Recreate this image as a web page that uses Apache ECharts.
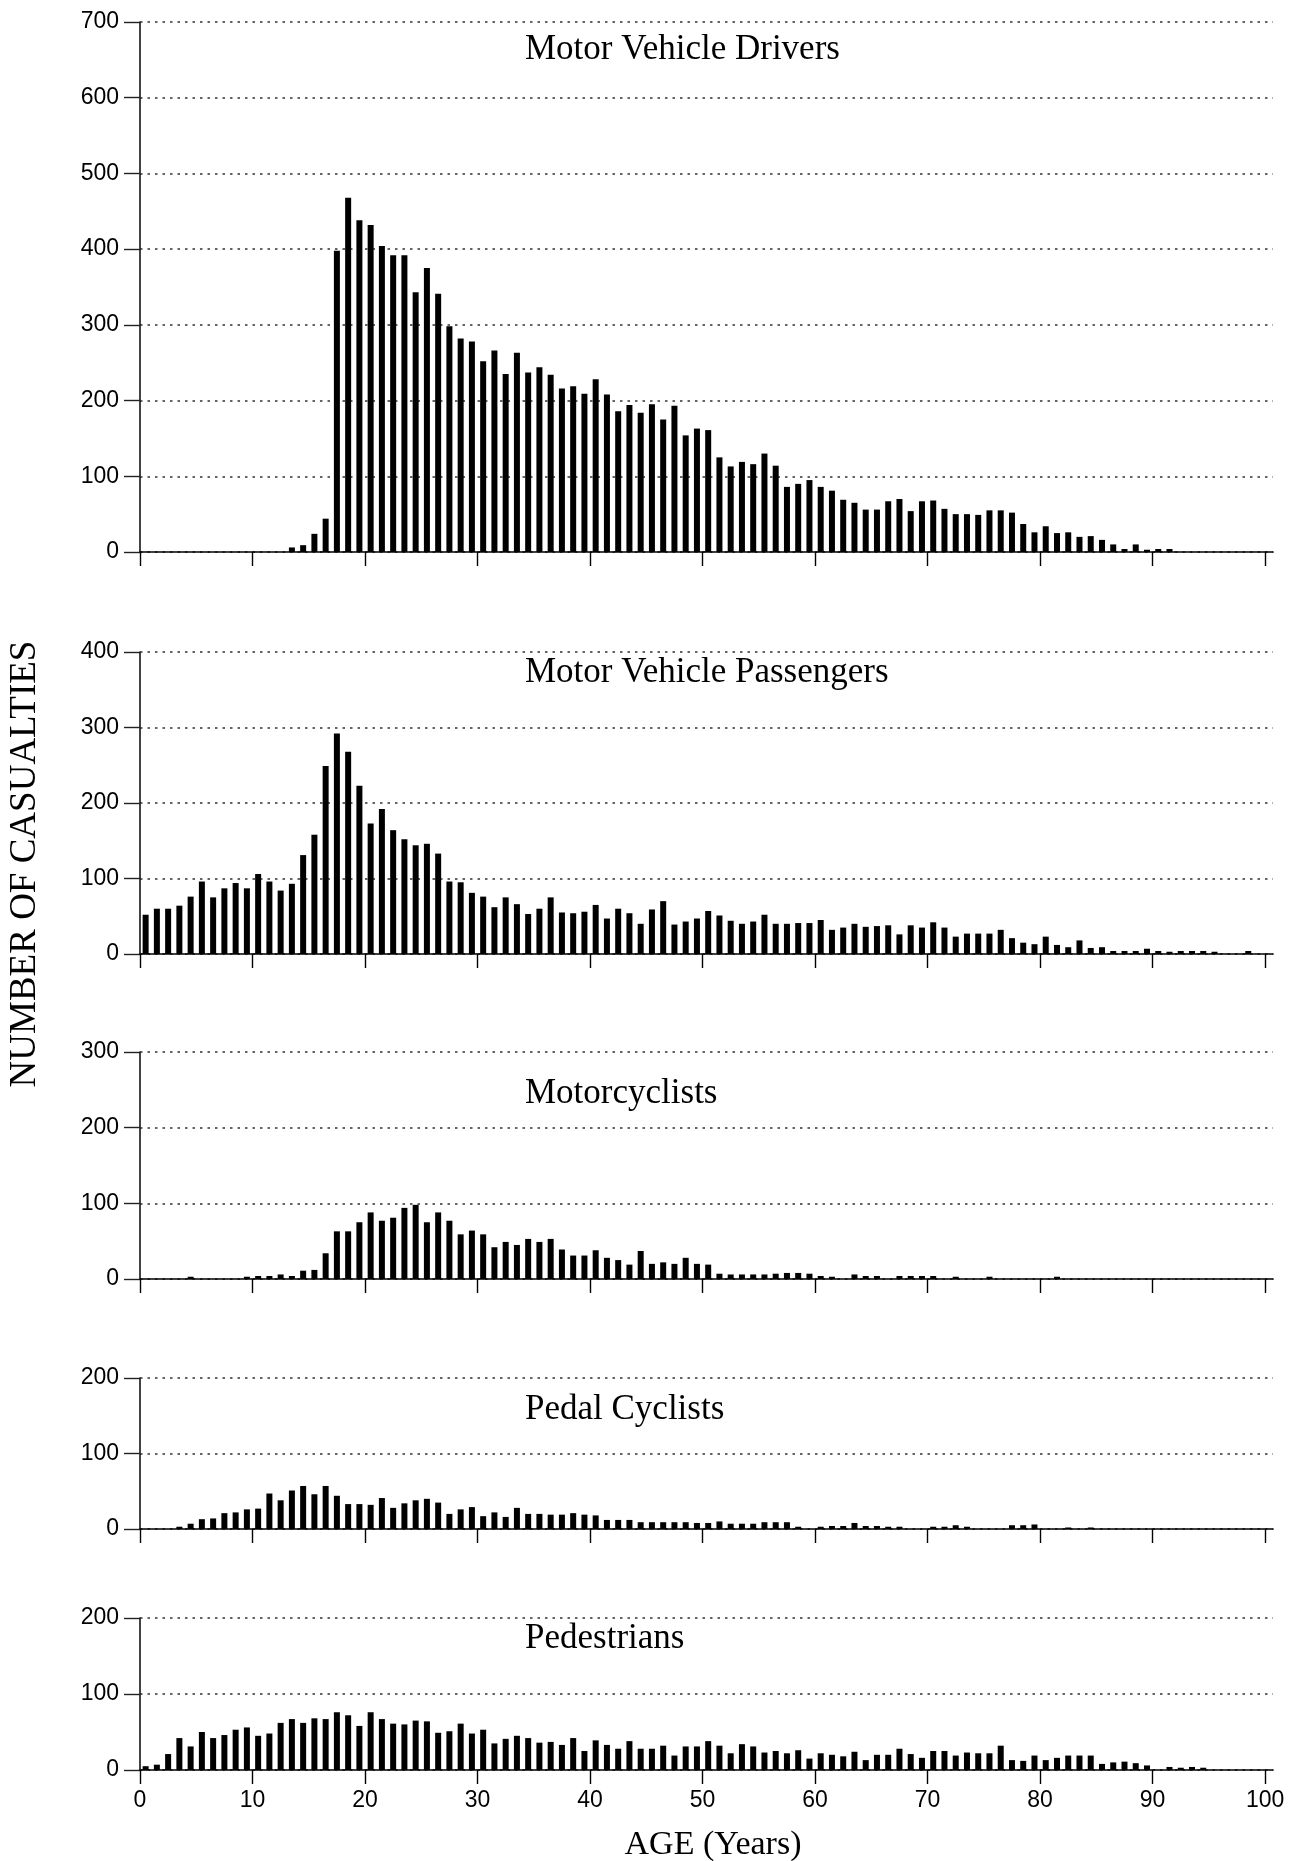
<!DOCTYPE html>
<html><head><meta charset="utf-8">
<script src="https://cdn.jsdelivr.net/npm/echarts@6/dist/echarts.min.js"></script>
<style>html,body{margin:0;padding:0;background:#fff}#c{width:1304px;height:1861px}</style>
</head><body><div id="c"></div>
<script>
// ---- data ----
const ages = [0,1,2,3,4,5,6,7,8,9,10,11,12,13,14,15,16,17,18,19,20,21,22,23,24,25,26,27,28,29,30,31,32,33,34,35,36,37,38,39,40,41,42,43,44,45,46,47,48,49,50,51,52,53,54,55,56,57,58,59,60,61,62,63,64,65,66,67,68,69,70,71,72,73,74,75,76,77,78,79,80,81,82,83,84,85,86,87,88,89,90,91,92,93,94,95,96,97,98,99];

const drivers = [0,0,0,0,0,0,0,0,0,0, 0,0,0,6,9,24,44,398,468,438, 432,404,392,392,343,375,341,298,282,278, 252,266,235,263,237,244,234,216,219,209, 228,208,186,194,184,195,175,193,154,163, 161,125,113,119,116,130,114,86,90,95, 86,81,69,65,56,56,67,70,54,67, 68,57,50,50,49,55,55,52,37,26, 34,25,26,20,21,16,10,4,10,3, 4,4,0,0,0,0,0,0,0,0];

const passengers = [52,60,60,64,76,96,75,87,94,87, 106,96,84,93,131,158,249,292,268,223, 173,192,164,152,144,146,133,96,95,81, 76,62,75,66,53,60,75,55,54,56, 65,47,60,54,40,59,70,39,43,47, 57,51,44,40,43,52,40,40,41,41, 45,32,35,40,36,37,38,26,38,35, 42,35,23,27,27,27,32,21,15,13, 23,12,9,18,8,9,4,4,4,7, 4,3,4,4,4,3,0,0,4,0];

const motorcyclists = [0,0,0,0,3,0,0,0,0,3, 4,4,6,4,11,12,34,63,63,75, 88,77,81,94,98,75,88,77,59,64, 59,42,49,45,53,49,53,39,31,31, 38,28,25,19,37,20,22,20,28,20, 19,7,6,6,6,6,7,8,8,7, 4,3,0,6,4,4,0,4,4,4, 4,0,3,0,0,3,0,0,0,0, 0,3,0,0,0,0,0,0,0,0, 0,0,0,0,0,0,0,0,0,0];

const pedalCyclists = [0,0,0,3,7,13,14,21,22,26, 27,47,38,51,57,46,57,44,33,33, 32,41,28,34,38,40,35,20,26,29, 17,22,16,28,20,20,19,19,21,19, 18,12,12,12,9,9,9,9,9,8, 8,10,7,7,7,9,9,9,3,0, 3,4,4,8,4,4,3,3,0,0, 3,3,5,3,0,0,0,5,5,6, 0,0,2,0,2,0,0,0,0,0, 0,0,0,0,0,0,0,0,0,0];

const pedestrians = [5,7,21,42,31,50,42,46,53,56, 45,48,62,67,62,68,67,76,72,58, 76,67,61,60,65,64,49,51,61,48, 53,35,41,45,42,36,37,33,42,25, 39,33,28,38,28,28,32,19,31,31, 38,32,22,34,31,23,25,22,26,15, 22,20,18,24,13,20,20,28,21,16, 25,25,19,23,22,22,32,13,12,19, 13,16,19,19,19,8,10,11,9,6, 0,4,3,4,3,0,0,0,0,0];

const panelTitles = ['Motor Vehicle Drivers','Motor Vehicle Passengers','Motorcyclists','Pedal Cyclists','Pedestrians'];
const panelValues = [drivers, passengers, motorcyclists, pedalCyclists, pedestrians];
const panelMax = [700, 400, 300, 200, 200];
const xTickLabels = [0,10,20,30,40,50,60,70,80,90,100];
const yAxisTitle = 'NUMBER OF CASUALTIES';
const xAxisTitle = 'AGE (Years)';

// ---- layout (styles only) ----
const gridTops = [22, 652, 1052, 1378, 1618];
const gridBottoms = [552, 954, 1279, 1529, 1770];
const titleY = [50, 673, 1094, 1410, 1639];
const LEFT = 140, RIGHT_X = 1273;

const grids = [], xAxes = [], yAxes = [], series = [], graphics = [];
for (let i = 0; i < 5; i++) {
  grids.push({left: LEFT, width: RIGHT_X - LEFT, top: gridTops[i], height: gridBottoms[i] - gridTops[i], containLabel: false});
  xAxes.push({
    type: 'value', gridIndex: i, min: 0, max: 100.7,
    axisLine: {show: true, onZero: false, lineStyle: {color: '#000', width: 1.7}},
    axisTick: {show: true, customValues: xTickLabels, length: 14, lineStyle: {color: '#000', width: 1.4}},
    axisLabel: {show: i === 4, customValues: xTickLabels, fontSize: 23, color: '#000', fontFamily: 'Liberation Sans', margin: 19},
    splitLine: {show: false}
  });
  yAxes.push({
    type: 'value', gridIndex: i, min: 0, max: panelMax[i], interval: 100,
    axisLine: {show: true, lineStyle: {color: '#222', width: 1.7}},
    axisTick: {show: true, length: 16, lineStyle: {color: '#222', width: 1.4}},
    axisLabel: {fontSize: 23, margin: 21, color: '#000', fontFamily: 'Liberation Sans'},
    splitLine: {show: true, lineStyle: {type: [2.5, 5], color: '#333', width: 1.5}}
  });
  series.push({
    type: 'bar', xAxisIndex: i, yAxisIndex: i, barWidth: 6,
    itemStyle: {color: '#000'},
    silent: true, animation: false,
    data: ages.map((a, j) => [a + 0.5, panelValues[i][j]]).filter(d => d[1] > 0)
  });
  graphics.push({type: 'text', x: 525, y: titleY[i], style: {text: panelTitles[i], font: '35px "Liberation Serif"', fill: '#000', verticalAlign: 'middle', align: 'left'}});
}
graphics.push({type: 'text', x: 25, y: 864, rotation: Math.PI / 2, style: {text: yAxisTitle, font: '37px "Liberation Serif"', fill: '#000', verticalAlign: 'middle', align: 'center'}});
graphics.push({type: 'text', x: 713, y: 1845, style: {text: xAxisTitle, font: '34px "Liberation Serif"', fill: '#000', verticalAlign: 'middle', align: 'center'}});

const chart = echarts.init(document.getElementById('c'), null, {renderer: 'canvas'});
chart.setOption({animation: false, backgroundColor: '#fff', grid: grids, xAxis: xAxes, yAxis: yAxes, series: series, graphic: graphics});
</script></body></html>
